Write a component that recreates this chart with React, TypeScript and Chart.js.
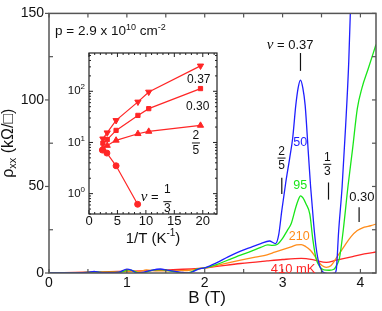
import React, { useEffect, useRef } from "react";
import { Chart, registerables } from "chart.js";

Chart.register(...registerables);

// ---------------- data (main panel: rho_xx vs B) ----------------
const B_50 = [0, 0.3, 0.5, 0.58, 0.65, 0.75, 0.9, 1.0, 1.06, 1.13, 1.2, 1.3, 1.43, 1.52, 1.62, 1.72, 1.78, 1.85, 1.92, 2.0, 2.15, 2.3, 2.46, 2.6, 2.72, 2.83, 2.91, 2.95, 2.99, 3.04, 3.09, 3.13, 3.17, 3.2, 3.23, 3.26, 3.29, 3.33, 3.36, 3.4, 3.43, 3.47, 3.51, 3.55, 3.6, 3.67, 3.69, 3.72, 3.765, 3.81, 3.85, 3.87, 3.92];
const RHO_50 = [0, 0.1, 0.3, 0.9, 0.3, 0.2, 0.5, 2.2, 1.6, 0, 0.3, 1.4, 2.3, 1.6, 1.0, 0.3, 0, 0.8, 2.3, 3.0, 5.8, 9.3, 12.6, 15.0, 17.0, 18.5, 17.0, 22, 36, 52, 66, 78, 97, 107, 111.5, 107, 97, 70, 50, 28, 15, 5, 1, 0, -0.5, 0, 2, 24, 50, 85, 122, 150, 230];

const B_95 = [0, 0.3, 0.5, 0.6, 0.7, 0.9, 1.03, 1.1, 1.16, 1.23, 1.35, 1.45, 1.55, 1.65, 1.72, 1.77, 1.83, 1.9, 2.0, 2.15, 2.3, 2.46, 2.6, 2.72, 2.81, 2.87, 2.93, 3.0, 3.06, 3.11, 3.17, 3.2, 3.23, 3.26, 3.3, 3.35, 3.39, 3.43, 3.48, 3.53, 3.6, 3.66, 3.7, 3.73, 3.78, 3.84, 3.9, 3.96, 4.02, 4.1, 4.2];
const RHO_95 = [0, 0.1, 0.3, 0.7, 0.3, 0.4, 1.8, 0.9, 0, 0.3, 1.8, 2.0, 1.2, 0.4, 0, 0, 0.6, 2.3, 2.9, 4.8, 7.5, 10.3, 12.6, 14.8, 16.2, 16.0, 16.5, 20, 24.5, 28.4, 38, 42, 44.6, 43.5, 40, 34, 19, 8.4, 3.5, 1.8, 1.6, 2.2, 5, 8.4, 25, 50, 72, 95, 107, 118, 132];

const B_210 = [0, 0.5, 0.9, 1.05, 1.15, 1.25, 1.4, 1.6, 1.8, 2.0, 2.2, 2.46, 2.65, 2.8, 2.9, 2.98, 3.1, 3.18, 3.24, 3.3, 3.36, 3.41, 3.46, 3.51, 3.56, 3.62, 3.71, 3.8, 3.88, 3.96, 4.05, 4.13, 4.21];
const RHO_210 = [0, 0.3, 0.6, 1.0, 0.8, 1.8, 1.2, 1.3, 1.6, 2.9, 4.8, 7.4, 9.2, 10.5, 12, 13.2, 15, 16.2, 16.4, 15.2, 13, 10, 6.5, 4.2, 3.3, 4.2, 10, 16, 21, 24.5, 26.5, 27.3, 28.4];

const B_410 = [0, 0.5, 1.0, 1.5, 2.0, 2.46, 2.8, 3.0, 3.24, 3.4, 3.56, 3.69, 3.9, 4.05, 4.21];
const RHO_410 = [0, 0.5, 1.0, 1.7, 2.9, 5.5, 7.0, 7.8, 8.4, 7.6, 6.1, 7.4, 9.5, 11, 12.2];

const SERIES_LABELS = ["50", "95", "210", "410 mK"];

// ---------------- data (inset: rho_xx vs 1/T, log) ----------------
const INV_T = [2.44, 3.2, 4.76, 8.6, 10.5, 19.6];
const R_NU037 = [11.8, 15.5, 27, 62, 97, 314];
const R_NU030 = [9.7, 11.4, 17.2, 33.8, 45.8, 113];
const R_NU25 = [7.7, 8.7, 11, 14.8, 16.4, 21.5];
const INV_T_13 = [2.35, 3.15, 4.76, 8.55];
const R_NU13 = [7.1, 6.2, 3.5, 0.62];
const INSET_DECADES = [0, 1, 2];

// ---------------- styles ----------------
const SANS = '"Liberation Sans", Arial, "DejaVu Sans", sans-serif';
const SERIF = '"Liberation Serif", "DejaVu Serif", serif';
const BLUE = "#1f1fff";
const GREEN = "#19e619";
const ORANGE = "#ff8c1a";
const RED = "#ff2626";
const AXIS = "#555555";

const pts = (xs: number[], ys: number[]) => xs.map((x, i) => ({ x, y: ys[i] }));

type Seg = { t: string; font: string; dy?: number };
function drawSegs(ctx: CanvasRenderingContext2D, segs: Seg[], x: number, y: number, align: "left" | "center" | "right") {
  let w = 0;
  for (const s of segs) {
    ctx.font = s.font;
    w += ctx.measureText(s.t).width;
  }
  let cur = align === "center" ? x - w / 2 : align === "right" ? x - w : x;
  ctx.textAlign = "left";
  ctx.textBaseline = "middle";
  for (const s of segs) {
    ctx.font = s.font;
    ctx.fillText(s.t, cur, y + (s.dy || 0));
    cur += ctx.measureText(s.t).width;
  }
}
function seg(ctx: CanvasRenderingContext2D, x1: number, y1: number, x2: number, y2: number) {
  ctx.beginPath();
  ctx.moveTo(x1, y1);
  ctx.lineTo(x2, y2);
  ctx.stroke();
}
function txt(ctx: CanvasRenderingContext2D, t: string, x: number, y: number, font: string, color: string) {
  ctx.font = font;
  ctx.fillStyle = color;
  ctx.textAlign = "center";
  ctx.textBaseline = "middle";
  ctx.fillText(t, x, y);
}
function fraction(ctx: CanvasRenderingContext2D, num: string, den: string, x: number, yNum: number, yBar: number, yDen: number, size: number) {
  txt(ctx, num, x, yNum, `${size}px ${SANS}`, "#111");
  txt(ctx, den, x, yDen, `${size}px ${SANS}`, "#111");
  ctx.strokeStyle = "#111";
  ctx.lineWidth = 1;
  seg(ctx, x - 4, yBar, x + 4, yBar);
}

const mainPlugin = {
  id: "mainDecor",
  afterDraw(chart: any) {
    const { ctx, chartArea: a, scales } = chart;
    const xs = scales.x;
    const ys = scales.y;
    const X = (v: number) => xs.getPixelForValue(v);
    const Y = (v: number) => ys.getPixelForValue(v);
    ctx.save();
    ctx.strokeStyle = AXIS;
    ctx.lineWidth = 1.2;
    for (let b = 0; b <= xs.max + 1e-9; b += 0.5) {
      const px = X(b);
      seg(ctx, px, a.bottom, px, a.bottom - 4);
      seg(ctx, px, a.top, px, a.top + 4);
    }
    for (let r = 0; r <= ys.max + 1e-9; r += 25) {
      const py = Y(r);
      if (r % 50 === 0) seg(ctx, a.left - 4, py, a.left, py);
      else seg(ctx, a.left, py, a.left + 4, py);
      seg(ctx, a.right, py, a.right - 4, py);
    }
    ctx.lineWidth = 1.5;
    ctx.strokeRect(a.left, a.top, a.right - a.left, a.bottom - a.top);

    // axis titles
    ctx.fillStyle = "#111";
    drawSegs(ctx, [{ t: "B (T)", font: `17px ${SANS}` }], X(2.03), a.bottom + 25, "center");
    ctx.save();
    ctx.translate(9, (a.top + a.bottom) / 2);
    ctx.rotate(-Math.PI / 2);
    drawSegs(
      ctx,
      [
        { t: "ρ", font: `16px ${SANS}` },
        { t: "xx", font: `11px ${SANS}`, dy: 4 },
        { t: " (kΩ/□)", font: `16px ${SANS}` },
      ],
      0,
      0,
      "center"
    );
    ctx.restore();

    // density
    ctx.fillStyle = "#111";
    drawSegs(
      ctx,
      [
        { t: "p = 2.9 x 10", font: `13.5px ${SANS}` },
        { t: "10", font: `9px ${SANS}`, dy: -4 },
        { t: " cm", font: `13.5px ${SANS}` },
        { t: "-2", font: `9px ${SANS}`, dy: -4 },
      ],
      X(0.077),
      Y(139.7),
      "left"
    );

    // nu = 0.37
    drawSegs(
      ctx,
      [
        { t: "ν", font: `italic 15px ${SERIF}` },
        { t: " = 0.37", font: `13px ${SANS}` },
      ],
      X(3.097),
      Y(131.7),
      "center"
    );
    ctx.strokeStyle = "#111";
    ctx.lineWidth = 1.2;
    seg(ctx, X(3.23), Y(127.1), X(3.23), Y(116.8));

    // temperature labels
    txt(ctx, SERIES_LABELS[0], X(3.226), Y(75.2), `12.5px ${SANS}`, BLUE);
    txt(ctx, SERIES_LABELS[1], X(3.226), Y(50.4), `12.5px ${SANS}`, GREEN);
    txt(ctx, SERIES_LABELS[2], X(3.213), Y(20.8), `12.5px ${SANS}`, ORANGE);
    txt(ctx, SERIES_LABELS[3], X(3.135), Y(2.1), `13px ${SANS}`, RED);

    // fractions and markers
    fraction(ctx, "2", "5", X(2.987), Y(70.1), Y(66.4), Y(62.1), 12);
    ctx.strokeStyle = "#111";
    ctx.lineWidth = 1.2;
    seg(ctx, X(2.99), Y(55.1), X(2.99), Y(45.6));
    fraction(ctx, "1", "3", X(3.574), Y(66.4), Y(62.8), Y(58.7), 12);
    ctx.strokeStyle = "#111";
    ctx.lineWidth = 1.2;
    seg(ctx, X(3.59), Y(52.3), X(3.59), Y(42.4));
    txt(ctx, "0.30", X(4.019), Y(43.7), `13px ${SANS}`, "#111");
    ctx.strokeStyle = "#111";
    seg(ctx, X(3.983), Y(38.0), X(3.983), Y(29.4));
    ctx.restore();
  },
};

const insetPlugin = {
  id: "insetDecor",
  afterDraw(chart: any) {
    const { ctx, chartArea: a, scales } = chart;
    const xs = scales.x;
    const ys = scales.y;
    const X = (v: number) => xs.getPixelForValue(v);
    const Y = (v: number) => ys.getPixelForValue(v);
    ctx.save();
    ctx.strokeStyle = "#222";
    ctx.lineWidth = 1;
    for (let v = 0; v <= xs.max + 1e-9; v += 1) {
      const px = X(v);
      const len = v % 5 === 0 ? 4 : 2;
      seg(ctx, px, a.bottom, px, a.bottom - len);
      seg(ctx, px, a.top, px, a.top + len);
    }
    for (let d = -1; d <= 2; d++) {
      for (let m = 1; m <= 9; m++) {
        const v = m * Math.pow(10, d);
        if (v < ys.min || v > ys.max) continue;
        const py = Y(v);
        const len = m === 1 ? 4 : 2;
        seg(ctx, a.left, py, a.left + len, py);
        seg(ctx, a.right, py, a.right - len, py);
      }
    }
    ctx.lineWidth = 1.2;
    ctx.strokeRect(a.left, a.top, a.right - a.left, a.bottom - a.top);

    ctx.fillStyle = "#111";
    for (const d of INSET_DECADES) {
      drawSegs(
        ctx,
        [
          { t: "10", font: `11.5px ${SANS}` },
          { t: String(d), font: `8px ${SANS}`, dy: -4 },
        ],
        a.left - 4,
        Y(Math.pow(10, d)),
        "right"
      );
    }
    drawSegs(
      ctx,
      [
        { t: "1/T (K", font: `15px ${SANS}` },
        { t: "-1", font: `10px ${SANS}`, dy: -5 },
        { t: ")", font: `15px ${SANS}` },
      ],
      (a.left + a.right) / 2,
      a.bottom + 24.5,
      "center"
    );
    txt(ctx, "0.37", X(19.3), Y(172), `12px ${SANS}`, "#111");
    txt(ctx, "0.30", X(19.1), Y(50.8), `12px ${SANS}`, "#111");
    fraction(ctx, "2", "5", X(18.8), Y(13.4), Y(9.77), Y(6.87), 12);
    ctx.fillStyle = "#111";
    drawSegs(
      ctx,
      [
        { t: "ν", font: `italic 15px ${SERIF}` },
        { t: " = ", font: `13px ${SANS}` },
      ],
      X(11.0),
      Y(0.845),
      "center"
    );
    fraction(ctx, "1", "3", X(13.77), Y(1.21), Y(0.697), Y(0.513), 12);
    ctx.restore();
  },
};

export default function App() {
  const mainRef = useRef<HTMLCanvasElement | null>(null);
  const insetRef = useRef<HTMLCanvasElement | null>(null);

  useEffect(() => {
    if (!mainRef.current || !insetRef.current) return;
    const line = (xs: number[], ys: number[], color: string, w = 1.3) => ({
      data: pts(xs, ys),
      borderColor: color,
      backgroundColor: color,
      borderWidth: w,
      pointRadius: 0,
      cubicInterpolationMode: "monotone" as const,
      fill: false,
    });
    const main = new Chart(mainRef.current, {
      type: "line",
      data: {
        datasets: [
          line(B_50, RHO_50, BLUE),
          line(B_95, RHO_95, GREEN),
          line(B_210, RHO_210, ORANGE),
          line(B_410, RHO_410, RED),
        ],
      },
      options: {
        animation: false,
        responsive: false,
        maintainAspectRatio: false,
        layout: { padding: { left: 0, top: 11, right: 6, bottom: 0 } },
        plugins: { legend: { display: false }, tooltip: { enabled: false } },
        scales: {
          x: {
            type: "linear",
            min: 0,
            max: 4.2,
            grid: { display: false, drawTicks: false },
            border: { display: false },
            ticks: {
              stepSize: 0.5,
              includeBounds: false,
              autoSkip: false,
              maxRotation: 0,
              padding: 2,
              color: "#111",
              font: { family: SANS, size: 14 },
              callback: (v: any) => (Math.abs(v - Math.round(v)) < 1e-6 ? String(Math.round(v)) : ""),
            },
            afterFit: (s: any) => {
              s.height = 38;
            },
          },
          y: {
            type: "linear",
            min: 0,
            max: 150,
            grid: { display: false, drawTicks: false },
            border: { display: false },
            ticks: {
              stepSize: 25,
              autoSkip: false,
              padding: 5,
              color: "#111",
              font: { family: SANS, size: 14 },
              callback: (v: any) => (Math.round(v) % 50 === 0 ? String(Math.round(v)) : ""),
            },
            afterFit: (s: any) => {
              s.width = 49;
            },
          },
        },
      },
      plugins: [mainPlugin],
    } as any);

    const marker = (xs: number[], ys: number[], style: string, rot = 0, r = 3.2) => ({
      data: pts(xs, ys),
      borderColor: RED,
      backgroundColor: RED,
      borderWidth: 1.2,
      pointStyle: style,
      pointRotation: rot,
      pointRadius: r,
      pointBorderWidth: 1,
      fill: false,
      tension: 0,
    });
    const inset = new Chart(insetRef.current, {
      type: "line",
      data: {
        datasets: [
          marker(INV_T, R_NU037, "triangle", 180, 3.6),
          marker(INV_T, R_NU030, "rect", 0, 3),
          marker(INV_T, R_NU25, "triangle", 0, 3.6),
          marker(INV_T_13, R_NU13, "circle", 0, 3),
        ],
      },
      options: {
        animation: false,
        responsive: false,
        maintainAspectRatio: false,
        layout: { padding: { left: 0, top: 53, right: 165, bottom: 0 } },
        plugins: { legend: { display: false }, tooltip: { enabled: false } },
        scales: {
          x: {
            type: "linear",
            min: 0,
            max: 22.5,
            grid: { display: false, drawTicks: false },
            border: { display: false },
            ticks: {
              stepSize: 5,
              includeBounds: false,
              autoSkip: false,
              maxRotation: 0,
              padding: 0,
              color: "#111",
              font: { family: SANS, size: 13 },
            },
            afterFit: (s: any) => {
              s.height = 97;
            },
          },
          y: {
            type: "logarithmic",
            min: 0.4,
            max: 560,
            grid: { display: false, drawTicks: false },
            border: { display: false },
            ticks: { display: false },
            afterFit: (s: any) => {
              s.width = 89;
            },
          },
        },
      },
      plugins: [insetPlugin],
    } as any);

    return () => {
      main.destroy();
      inset.destroy();
    };
  }, []);

  return (
    <div style={{ position: "fixed", left: 0, top: 0, width: 382, height: 311, background: "#fff" }}>
      <canvas ref={mainRef} width={382} height={311} style={{ position: "absolute", left: 0, top: 0, width: 382, height: 311 }} />
      <canvas ref={insetRef} width={382} height={311} style={{ position: "absolute", left: 0, top: 0, width: 382, height: 311 }} />
    </div>
  );
}
